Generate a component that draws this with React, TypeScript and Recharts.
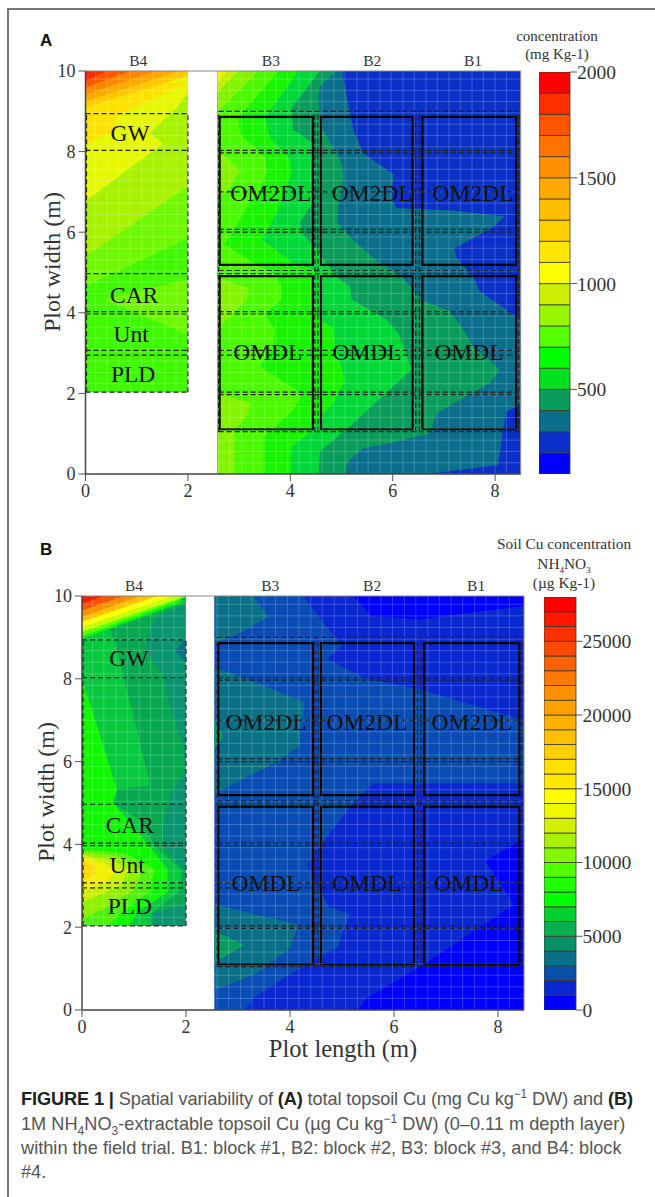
import React from 'react'
import {
  ComposedChart, BarChart, Bar, Area, XAxis, YAxis,
  ReferenceLine, ReferenceArea, ReferenceDot,
} from 'recharts'

// contour rows: [plot width, left edge, right edge] in metres
type Row = [number, number, number]
type Layer = { color: string; rows: Row[] }

const left = (base: number, pts: number[][]): Row[] => pts.map(([y, x]) => [y, base, x])

const aFieldStart = 2.58
const bFieldStart = 2.55

/* ---------- panel A, blocks B1-B3 ---------- */
const aField300 = [[10, 5.03], [9.71, 5.05], [8.55, 5.23], [7.97, 5.42], [7.43, 6.02], [6.89, 5.98], [6.6, 6.07], [6.54, 7.18], [6.39, 8.19], [6.1, 7.93], [5.6, 7.21], [5.36, 7.25], [4.9, 7.57], [4.54, 7.7], [3.83, 8.5], [1.72, 8.5], [1.55, 8.22], [0.85, 8.13], [0.22, 8.06], [0.03, 6.86], [0, 6.8]]
const aField400 = [[10, 4.9], [9.63, 4.58], [9.42, 4.55], [8.8, 4.58], [8.55, 4.64], [7.72, 5.0], [7.39, 5.05], [6.64, 4.94], [6.23, 4.92], [5.8, 5.23], [5.26, 5.72], [4.93, 6.14], [4.58, 6.41], [4.33, 6.54], [4.04, 7.12], [3.46, 7.44], [3.17, 7.57], [2.59, 8.09], [2.26, 7.9], [1.51, 6.86], [1.01, 6.72], [0.8, 6.07], [0.64, 5.42], [0.31, 5.13], [0, 5.07]]
const aFieldL5 = [[10, 4.58], [9.1, 4.03], [8.55, 4.05], [8.23, 4.42], [7.4, 4.5], [6.7, 4.42], [6.24, 4.19], [5.95, 4.25], [5.6, 4.5], [5.44, 4.58], [4.9, 4.9], [4.66, 5.16], [4.33, 5.2], [3.83, 5.88], [3.5, 6.11], [2.59, 6.37], [1.18, 5.16], [0.56, 4.58], [0, 4.55]]
const aFieldL4 = [[10, 4.16], [8.85, 3.51], [8.35, 3.6], [7.81, 3.99], [7.48, 4.03], [7.06, 3.9], [6.57, 3.77], [5.82, 3.44], [5.24, 4.06], [5.07, 4.45], [4.9, 4.5], [4.4, 4.45], [3.83, 4.58], [3.62, 4.84], [3.17, 4.87], [2.34, 5.07], [1.76, 4.84], [1.43, 4.58], [1.09, 4.45], [0.68, 4.03], [0, 4.0]]
const aFieldL3 = [[10, 3.77], [8.85, 2.99], [8.43, 3.02], [7.86, 3.51], [7.52, 3.54], [7.03, 3.41], [6.73, 3.21], [5.7, 2.72], [5.24, 3.28], [4.99, 3.67], [4.66, 3.83], [4.33, 3.83], [3.96, 3.51], [3.58, 3.7], [3.17, 3.67], [2.67, 3.41], [2.0, 4.23], [1.59, 4.06], [1.09, 3.64], [0.93, 3.48], [0, 3.48]]
const aFieldL2 = [[10, 3.38], [8.97, 2.58], [8.06, 2.58], [7.52, 3.03], [7.11, 2.82], [6.85, 2.58], [4.87, 2.58], [4.62, 3.18], [4.33, 3.15], [3.7, 2.66], [3.5, 2.58], [2.0, 2.58], [1.76, 3.22], [1.51, 3.18], [1.09, 2.92], [0, 2.92]]
const aFieldL1 = [[10, 2.99], [9.47, 2.58]]
const aFieldCorner = [[10, 2.78], [9.72, 2.58]]

/* ---------- panel A, block B4 ---------- */
const aStripLobe: Row[] = [[4.83, 2, 2], [4.33, 0.35, 2], [3.46, 2, 2]]
const aStrip3 = [[10, 2], [5.85, 2], [4.65, 0]]
const aStrip2 = [[10, 2], [7.14, 2], [5.4, 0]]
const aStrip1 = [[10, 2], [9.45, 2], [9.09, 1.78], [8.47, 1.26], [8.18, 1.52], [7.84, 1.13], [6.77, 0]]
const aStripGold = [[9.71, 2], [8.88, 0.6], [8.5, 0.55], [8.2, 0]]
const aCorner = [
  [[10, 2], [9.88, 2], [9.09, 0]],
  [[10, 1.85], [9.25, 0]],
  [[10, 1.39], [9.42, 0]],
  [[10, 0.87], [9.59, 0]],
  [[10, 0.42], [9.75, 0]],
]
const aCornerColors = ['#ffc800', '#ffa800', '#ff8800', '#ff5800', '#ff2a00']

const aLayers: Layer[] = [
  { color: '#0a30c8', rows: [[10, aFieldStart, 8.5], [0, aFieldStart, 8.5]] },
  { color: '#0a6e8c', rows: left(aFieldStart, aField300) },
  { color: '#0a9c5a', rows: left(aFieldStart, aField400) },
  { color: '#00d838', rows: left(aFieldStart, aFieldL5) },
  { color: '#18f400', rows: left(aFieldStart, aFieldL4) },
  { color: '#4cfa00', rows: left(aFieldStart, aFieldL3) },
  { color: '#84f400', rows: left(aFieldStart, aFieldL2) },
  { color: '#c0f000', rows: left(aFieldStart, aFieldL1) },
  { color: '#f0f200', rows: left(aFieldStart, aFieldCorner) },
  { color: '#40f800', rows: [[10, 0, 2], [2.03, 0, 2]] },
  { color: '#70f800', rows: aStripLobe },
  { color: '#70f800', rows: left(0, aStrip3) },
  { color: '#a8f200', rows: left(0, aStrip2) },
  { color: '#e6f800', rows: left(0, aStrip1) },
  { color: '#fde200', rows: left(0, aStripGold) },
  ...aCorner.map((pts, i) => ({ color: aCornerColors[i], rows: left(0, pts) })),
]

/* ---------- panel B, blocks B1-B3 ---------- */
const bField2000 = [[10, 4.26], [9.45, 4.58], [8.81, 5.0], [8.48, 4.71], [8.0, 5.47], [7.76, 6.44], [7.03, 8.42], [6.9, 8.5], [5.48, 8.5], [5.47, 5.6], [5.25, 5.41], [4.84, 5.12], [4.28, 4.77], [3.51, 4.32], [2.5, 4.74], [2.3, 5.15], [1.78, 4.99], [1.53, 4.93], [1.29, 4.58], [0.81, 3.94], [0.28, 3.29], [0, 3.13]]
const bField3000Top = [[10, 3.29], [9.49, 3.58], [9.15, 3.1], [8.85, 2.55]]
const bField3000Mid = [[8.26, 2.6], [7.84, 3.49], [7.43, 4.29], [6.79, 4.19], [6.38, 4.19], [5.98, 3.74], [5.42, 2.85], [5.2, 2.55]]
const bField3000Low = [[2.55, 2.55], [2.06, 4.16], [1.49, 4.0], [0.89, 3.36], [0.48, 2.55]]
const bField4000Mid = [[7.0, 2.55], [6.6, 2.72], [6.3, 2.55]]
const bField4000Low = [[1.9, 2.55], [1.57, 3.13], [1.37, 2.85], [1.13, 2.55]]
const bBlueTop: Row[] = [[10, 5.22, 8.5], [9.76, 5.4, 8.5], [9.52, 5.54, 7.0], [9.43, 6.5, 6.5]]
const bBlueLow: Row[] = [[4.13, 8.5, 8.5], [4.08, 8.42, 8.5], [3.59, 7.75, 8.5], [2.9, 8.13, 8.5], [2.54, 8.3, 8.5], [1.09, 6.56, 8.5], [0.28, 5.47, 8.5], [0, 5.31, 8.5]]

/* ---------- panel B, block B4 ---------- */
const bStripTeal: Row[] = [[8.97, 2, 2], [8.68, 1.79, 2], [8.4, 2, 2]]
const bStrip1 = [[10, 2], [9.81, 2], [9.49, 1.44], [8.97, 1.24], [8.64, 1.24], [8.08, 1.56], [7.35, 1.69], [6.38, 1.95], [5.98, 1.97], [5.82, 2], [5.25, 1.72], [4.84, 1.63], [4.44, 1.56], [3.95, 1.56], [3.39, 1.97], [2.9, 2], [2.54, 1.97], [2.34, 1.37], [2.03, 1.37]]
const bStrip2 = [[9.85, 2], [9.21, 0.54], [8.4, 0.73], [8.08, 0.79], [7.11, 0.99], [5.42, 1.31], [5.33, 0.67], [5.0, 0.6], [4.6, 1.1], [3.95, 1.4], [3.4, 1.9], [2.9, 1.9], [2.5, 1.5], [2.3, 1.3], [2.03, 1.3]]
const bStrip3 = [[9.9, 2], [8.97, 0], [8.0, 0], [6.63, 0.35], [5.48, 0.63], [5.33, 0.67], [5.0, 0.6], [4.44, 0.99], [4.03, 1.24], [3.4, 1.65], [2.85, 1.65], [2.4, 1.1], [2.03, 0.9]]
const bBlob = [
  [[3.88, 0], [3.8, 0.8], [3.4, 1.4], [2.85, 1.3], [2.4, 0.8], [2.03, 0.5]],
  [[3.82, 0], [3.72, 0.7], [3.4, 1.15], [2.9, 1.0], [2.5, 0.5], [2.2, 0]],
  [[3.75, 0], [3.6, 0.6], [3.4, 0.9], [3.0, 0.75], [2.6, 0]],
  [[3.72, 0], [3.5, 0.5], [3.4, 0.65], [3.1, 0.5], [2.85, 0]],
  [[3.65, 0], [3.45, 0.25], [3.3, 0.25], [3.1, 0]],
]
const bBlobColors = ['#50f010', '#90f000', '#c8f000', '#f0f000', '#ffd800']
const bCorner = [
  [[9.97, 2], [9.03, 0]],
  [[10, 2], [9.13, 0]],
  [[10, 1.76], [9.25, 0]],
  [[10, 1.44], [9.37, 0]],
  [[10, 1.12], [9.49, 0]],
  [[10, 0.8], [9.65, 0]],
  [[10, 0.41], [9.81, 0]],
]
const bCornerColors = ['#60ff00', '#c0ff00', '#ffff00', '#ffc000', '#ff9000', '#ff5000', '#ff1800']

const bLayers: Layer[] = [
  { color: '#0a28d0', rows: [[10, bFieldStart, 8.5], [0, bFieldStart, 8.5]] },
  { color: '#0000ff', rows: bBlueTop },
  { color: '#0000ff', rows: bBlueLow },
  { color: '#084cb4', rows: left(bFieldStart, bField2000) },
  { color: '#0a7088', rows: left(bFieldStart, bField3000Top) },
  { color: '#0a7088', rows: left(bFieldStart, bField3000Mid) },
  { color: '#0a7088', rows: left(bFieldStart, bField3000Low) },
  { color: '#0a9c60', rows: left(bFieldStart, bField4000Mid) },
  { color: '#0a9c60', rows: left(bFieldStart, bField4000Low) },
  { color: '#0a9470', rows: [[10, 0, 2], [2.03, 0, 2]] },
  { color: '#0a7088', rows: bStripTeal },
  { color: '#08a850', rows: left(0, bStrip1) },
  { color: '#08c840', rows: left(0, bStrip2) },
  { color: '#10f800', rows: left(0, bStrip3) },
  ...bBlob.map((pts, i) => ({ color: bBlobColors[i], rows: left(0, pts) })),
  ...bCorner.map((pts, i) => ({ color: bCornerColors[i], rows: left(0, pts) })),
]

/* ---------- plot layout of the trial, shared by both panels ---------- */
const xTicks = [0, 2, 4, 6, 8]
const yTicks = [0, 2, 4, 6, 8, 10]
const gridX = [0.2, 0.42, 0.65, 0.87, 1.1, 1.32, 1.55, 1.77, 2.0, 2.6, 2.82, 3.05, 3.27, 3.5, 3.72, 3.95, 4.17, 4.4, 4.62, 4.85, 5.07, 5.3, 5.52, 5.75, 5.97, 6.2, 6.42, 6.65, 6.87, 7.1, 7.32, 7.55, 7.77, 8.0, 8.22]
const gridY = [0.28, 0.56, 0.84, 1.12, 1.4, 1.68, 1.96, 2.24, 2.52, 2.8, 3.08, 3.36, 3.64, 3.92, 4.2, 4.48, 4.76, 5.04, 5.32, 5.6, 5.88, 6.16, 6.44, 6.72, 7.0, 7.28, 7.56, 7.84, 8.12, 8.4, 8.68, 8.96, 9.24, 9.52, 9.8]
const boxColumns = [[2.62, 4.44], [4.6, 6.39], [6.58, 8.41]]
const boxRows = [[5.19, 8.86], [1.11, 4.91]]
const stripDashY = [8.94, 8.03, 4.97, 4.03, 3.97, 3.07, 2.95, 2.03]
const stripDashX = [0.02, 2]
const fieldDashY = [9.0, 8.03, 7.97, 7.0, 6.07, 6.0, 5.05, 4.97, 4.03, 3.97, 3.07, 2.95, 2.03, 1.97, 1.05]
const fieldDashX = [2.6, 4.48, 4.54, 6.45, 6.52, 8.46]

const aPlotLabels = [
  { x: 0.87, y: 8.48, text: 'GW' }, { x: 0.95, y: 4.45, text: 'CAR' }, { x: 0.89, y: 3.48, text: 'Unt' }, { x: 0.93, y: 2.49, text: 'PLD' },
  { x: 3.62, y: 6.99, text: 'OM2DL' }, { x: 5.6, y: 6.99, text: 'OM2DL' }, { x: 7.57, y: 6.99, text: 'OM2DL' },
  { x: 3.56, y: 3.03, text: 'OMDL' }, { x: 5.5, y: 3.03, text: 'OMDL' }, { x: 7.49, y: 3.03, text: 'OMDL' },
]
const bPlotLabels = [
  { x: 0.9, y: 8.5, text: 'GW' }, { x: 0.92, y: 4.48, text: 'CAR' }, { x: 0.87, y: 3.51, text: 'Unt' }, { x: 0.92, y: 2.52, text: 'PLD' },
  { x: 3.54, y: 6.97, text: 'OM2DL' }, { x: 5.48, y: 6.97, text: 'OM2DL' }, { x: 7.5, y: 6.97, text: 'OM2DL' },
  { x: 3.54, y: 3.07, text: 'OMDL' }, { x: 5.48, y: 3.07, text: 'OMDL' }, { x: 7.44, y: 3.07, text: 'OMDL' },
]
const blockNames = ['B4', 'B3', 'B2', 'B1']
const aBlockTicks = [1.03, 3.62, 5.6, 7.57]
const bBlockTicks = [1.0, 3.62, 5.58, 7.58]

/* ---------- colour bars ---------- */
const aBarColors = ['#0000ff', '#0a30c8', '#0a6e8c', '#0a9c5a', '#00e020', '#00ff00', '#55ff00', '#99f400', '#ccee00', '#ffff00', '#ffe600', '#ffd000', '#ffbe00', '#ffa800', '#ff9000', '#ff7400', '#ff5400', '#ff3000', '#ff0000']
const aBarTicks = [500, 1000, 1500, 2000]
const bBarColors = ['#0000ff', '#0a28d0', '#0850a8', '#0a7088', '#0a9068', '#08b050', '#00d030', '#00ff00', '#20ff00', '#50ff00', '#80f800', '#a8f000', '#d0f000', '#f0f800', '#ffff00', '#ffe800', '#ffe000', '#ffd000', '#ffc000', '#ffb000', '#ffa000', '#ff9000', '#ff7800', '#ff6000', '#ff4800', '#ff3000', '#ff1800', '#ff0000']
const bBarTicks = [0, 5000, 10000, 15000, 20000, 25000]

const serif = '"Liberation Serif", serif'
const sans = '"Liberation Sans", sans-serif'
const ink = '#333'
const dash = { stroke: '#222', strokeDasharray: '5 3', strokeWidth: 1.2 }
const gridLine = { stroke: '#fff', strokeOpacity: 0.2, strokeWidth: 1 }

function FieldChart({ layers, labels, blockTicks, top, height, margin }: {
  layers: Layer[]
  labels: { x: number; y: number; text: string }[]
  blockTicks: number[]
  top: number
  height: number
  margin: { top: number; right: number; bottom: number; left: number }
}) {
  return (
    <div style={{ position: 'absolute', left: 0, top }}>
      <ComposedChart width={655} height={height} layout="vertical" margin={margin} style={{ fontFamily: serif }}>
        <XAxis
          type="number" domain={[0, 8.5]} ticks={xTicks} height={1} allowDataOverflow
          fontFamily={serif} fontSize={18} tick={{ fill: ink }} tickSize={7} tickMargin={3}
          axisLine={{ stroke: '#444', strokeWidth: 1.5 }} tickLine={{ stroke: '#555' }}
        />
        <YAxis
          type="number" dataKey="y" domain={[0, 10]} ticks={yTicks} width={1} allowDataOverflow reversed
          fontFamily={serif} fontSize={18} tick={{ fill: ink }} tickSize={7} tickMargin={3}
          axisLine={{ stroke: '#444', strokeWidth: 1.5 }} tickLine={{ stroke: '#555' }}
        />
        {layers.map((layer, i) => (
          <Area
            key={i}
            data={layer.rows.map(([y, lo, hi]) => ({ y, band: [lo, hi] }))}
            dataKey="band"
            type="linear"
            fill={layer.color}
            fillOpacity={1}
            stroke="none"
            dot={false}
            activeDot={false}
            isAnimationActive={false}
          />
        ))}
        {gridX.map(x => <ReferenceLine key={`gx${x}`} x={x} {...gridLine} />)}
        {gridY.map(y => <ReferenceLine key={`gy${y}`} y={y} {...gridLine} />)}
        <ReferenceLine y={10} stroke="#888" />
        <ReferenceLine x={8.5} stroke="#888" />
        {stripDashY.map(y => (
          <ReferenceLine key={`sy${y}`} segment={[{ x: 0, y }, { x: 2, y }]} {...dash} />
        ))}
        {stripDashX.map(x => (
          <ReferenceLine key={`sx${x}`} segment={[{ x, y: 2.03 }, { x, y: 8.94 }]} {...dash} />
        ))}
        {fieldDashY.map(y => (
          <ReferenceLine key={`fy${y}`} segment={[{ x: 2.6, y }, { x: 8.46, y }]} {...dash} />
        ))}
        {fieldDashX.map(x => (
          <ReferenceLine key={`fx${x}`} segment={[{ x, y: 1.05 }, { x, y: 9 }]} {...dash} />
        ))}
        {boxColumns.flatMap(([x1, x2]) => boxRows.map(([y1, y2]) => (
          <ReferenceArea key={`${x1}-${y1}`} x1={x1} x2={x2} y1={y1} y2={y2} fill="none" fillOpacity={0} stroke="#000" strokeOpacity={1} strokeWidth={2.2} />
        )))}
        {labels.map(d => (
          <ReferenceDot
            key={`${d.text}${d.x}`} x={d.x} y={d.y} r={0} fill="none" stroke="none"
            label={{ value: d.text, position: 'center', fontSize: 23.5, fill: '#111', fontFamily: serif }}
          />
        ))}
        {blockTicks.map((x, i) => (
          <ReferenceDot
            key={blockNames[i]} x={x} y={10} r={0} fill="none" stroke="none"
            label={{ value: blockNames[i], position: 'top', offset: 5, fontSize: 15.5, fill: ink, fontFamily: serif }}
          />
        ))}
      </ComposedChart>
    </div>
  )
}

function ColorBar({ colors, step, start, ticks, left: barLeft, top, height, width }: {
  colors: string[]
  step: number
  start: number
  ticks: number[]
  left: number
  top: number
  height: number
  width: number
}) {
  const row: Record<string, number | string> = { name: 'bar', base: start }
  colors.forEach((_, i) => { row[`b${i}`] = step })
  const pad = 12
  return (
    <div style={{ position: 'absolute', left: barLeft, top: top - pad }}>
      <BarChart
        width={width + 75} height={height + pad * 2} data={[row]} barCategoryGap={0}
        margin={{ top: pad, bottom: pad, left: 0, right: 74 }} style={{ fontFamily: serif }}
      >
        <XAxis dataKey="name" hide />
        <YAxis
          orientation="right" type="number" width={1} allowDataOverflow
          domain={[start, start + step * colors.length]} ticks={ticks}
          fontFamily={serif} fontSize={19.5} tick={{ fill: ink }} tickSize={7} tickMargin={0}
          axisLine={false} tickLine={{ stroke: '#555' }}
        />
        <Bar dataKey="base" stackId="s" fill="none" isAnimationActive={false} />
        {colors.map((c, i) => (
          <Bar key={i} dataKey={`b${i}`} stackId="s" fill={c} stroke="#3a3a2a" strokeWidth={0.8} isAnimationActive={false} />
        ))}
      </BarChart>
    </div>
  )
}

const centered = (cx: number, y: number, size: number, text: React.ReactNode) => (
  <div style={{
    position: 'absolute', left: cx - 100, width: 200, top: y, textAlign: 'center',
    fontFamily: serif, fontSize: size, lineHeight: 1, color: ink, whiteSpace: 'nowrap',
  }}>{text}</div>
)

const rotated = (cx: number, cy: number, text: string) => (
  <div style={{
    position: 'absolute', left: cx - 100, width: 200, top: cy - 12, textAlign: 'center',
    transform: 'rotate(-90deg)', fontFamily: serif, fontSize: 24, lineHeight: '24px', color: ink,
  }}>{text}</div>
)

const panelLetter = (y: number, text: string) => (
  <div style={{ position: 'absolute', left: 40, top: y, fontFamily: sans, fontWeight: 700, fontSize: 17, lineHeight: 1, color: '#111' }}>{text}</div>
)

const captionLine: React.CSSProperties = {
  position: 'absolute', left: 21, fontFamily: sans, fontSize: 18.2, lineHeight: '20px', color: '#555', whiteSpace: 'nowrap',
}
const small: React.CSSProperties = { fontSize: 12, lineHeight: 0 }
const strong: React.CSSProperties = { color: '#222' }

export default function App() {
  return (
    <div style={{ position: 'absolute', left: 0, top: 0, width: 655, height: 1197, background: '#fff', overflow: 'hidden' }}>
      <div style={{ position: 'absolute', left: 7, top: 8, width: 648, height: 1189, borderLeft: '2px solid #777', borderTop: '2px solid #777' }} />

      {panelLetter(32, 'A')}
      <FieldChart
        layers={aLayers} labels={aPlotLabels} blockTicks={aBlockTicks}
        top={0} height={510} margin={{ top: 71, bottom: 35, left: 84.5, right: 134.3 }}
      />
      <ColorBar colors={aBarColors} step={100} start={100} ticks={aBarTicks} left={539} top={72} height={402} width={31} />
      {centered(557, 29, 15, 'concentration')}
      {centered(557, 47, 15, '(mg Kg-1)')}
      {rotated(52, 262, 'Plot width (m)')}

      {panelLetter(541, 'B')}
      <FieldChart
        layers={bLayers} labels={bPlotLabels} blockTicks={bBlockTicks}
        top={530} height={510} margin={{ top: 66, bottom: 29, left: 81, right: 131 }}
      />
      <ColorBar colors={bBarColors} step={1000} start={0} ticks={bBarTicks} left={543.5} top={597} height={413} width={31.5} />
      {centered(564, 536, 15.4, 'Soil Cu concentration')}
      {centered(564, 556, 15.4, <span>NH<sub style={{ fontSize: 9 }}>4</sub>NO<sub style={{ fontSize: 9 }}>3</sub></span>)}
      {centered(564, 575, 15.4, '(µg Kg-1)')}
      {rotated(46, 792, 'Plot width (m)')}
      {centered(343, 1037, 24.5, 'Plot length (m)')}

      <div style={{ ...captionLine, top: 1089, letterSpacing: -0.12 }}>
        <b style={strong}>FIGURE 1 |</b> Spatial variability of <b style={strong}>(A)</b> total topsoil Cu (mg Cu kg<sup style={small}>−1</sup> DW) and <b style={strong}>(B)</b>
      </div>
      <div style={{ ...captionLine, top: 1114 }}>
        1M NH<sub style={small}>4</sub>NO<sub style={small}>3</sub>-extractable topsoil Cu (µg Cu kg<sup style={small}>−1</sup> DW) (0–0.11 m depth layer)
      </div>
      <div style={{ ...captionLine, top: 1138 }}>
        within the field trial. B1: block #1, B2: block #2, B3: block #3, and B4: block
      </div>
      <div style={{ ...captionLine, top: 1162 }}>#4.</div>
    </div>
  )
}
